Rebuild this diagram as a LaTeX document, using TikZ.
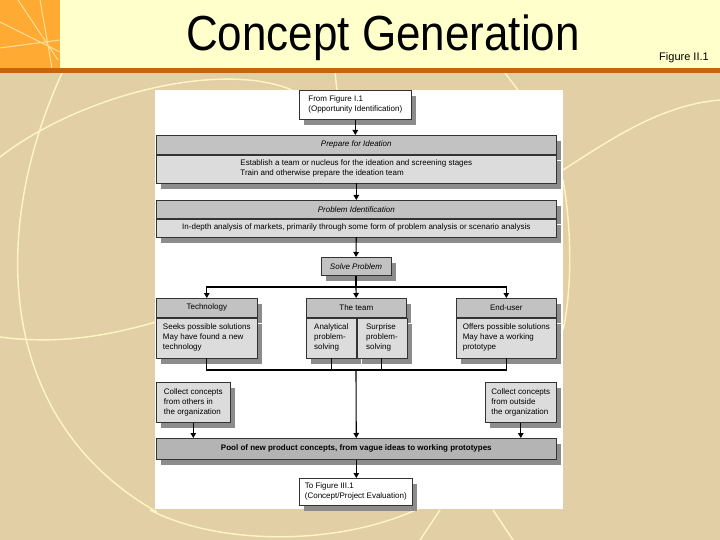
\documentclass[tikz,border=0pt]{standalone}
\usepackage{fontspec}
\setmainfont{Liberation Sans}
\usetikzlibrary{arrows.meta,shadows}
\newcommand{\figsz}{\fontsize{8}{10}\selectfont}
\definecolor{slidetan}{HTML}{E3CFA5}
\definecolor{slideband}{HTML}{FFFFCC}
\definecolor{slidebar}{HTML}{C4660E}
\definecolor{slideorange}{HTML}{FFAA33}
\definecolor{slideline}{HTML}{FFF6C4}
\definecolor{boxhead}{HTML}{C2C2C2}
\definecolor{boxbody}{HTML}{DCDCDC}
\definecolor{boxpool}{HTML}{B4B4B4}
\definecolor{boxshade}{HTML}{8C8C8C}
\definecolor{boxedge}{HTML}{333333}

\begin{document}
\begin{tikzpicture}[
  x=1pt,
  y=-1pt,
  every node/.style={inner sep=0pt, font=\figsz, text=black},
  boxshadow/.style={drop shadow={shadow xshift=5pt, shadow yshift=-6pt, fill=boxshade, opacity=1}},
  header/.style={draw=boxedge, line width=0.6pt, fill=boxhead, boxshadow, font=\figsz\itshape},
  plainhead/.style={header, font=\figsz},
  bodybox/.style={draw=boxedge, line width=0.6pt, fill=boxbody, boxshadow, align=left},
  whitebox/.style={draw=boxedge, line width=0.6pt, fill=white, boxshadow, align=left},
  flow/.style={black, line width=1.1pt, -{Triangle[length=5pt, width=5.5pt]}},
  link/.style={black, line width=1.1pt},
  deco/.style={slideline, line width=1.4pt}
]
  % ---- slide frame, curves are clipped to it ----
  \useasboundingbox (0,0) rectangle (720,540);
  \clip (0,0) rectangle (720,540);

  % ---- slide background ----
  \fill[slidetan] (0,0) rectangle (720,540);
  \draw[deco] (62,73) .. controls (-10,230) and (-5,420) .. (157,512);
  \draw[deco] (150,510) .. controls (220,546) and (340,546) .. (420,508);
  \draw[deco] (0,157) .. controls (80,95) and (220,60) .. (292,90);
  \draw[deco] (0,337) .. controls (60,345) and (110,335) .. (156,322);
  \draw[deco] (563,170) .. controls (610,140) and (660,105) .. (720,100);
  \draw[deco] (563,180) .. controls (572,230) and (572,290) .. (563,330);
  \draw[deco] (335,73) -- (337,90);
  \draw[deco] (505,73) -- (518,90);
  \draw[deco] (440,510) -- (420,540);
  \draw[deco] (493,510) -- (513,540);

  % ---- title band ----
  \fill[slideband] (0,0) rectangle (720,68);
  \fill[slideorange] (0,0) rectangle (60,68);
  \draw[slideline, line width=1pt, opacity=0.7]
    (0,22) -- (60,52) (18,0) -- (58,60) (0,48) -- (60,40) (40,0) -- (52,68);
  \fill[slidebar] (0,68) rectangle (720,73);
  \node[font=\fontsize{44}{48}\selectfont] (title) at (383,38)
    {\scalebox{1}[1.12]{Concept Generation}};
  \node[font=\fontsize{11}{13}\selectfont] (fignum) at (684,58) {Figure II.1};

  % ---- white panel ----
  \fill[white] (155,90) rectangle (563,509);

  % ---- top of the chart ----
  \node[whitebox, minimum width=112pt, minimum height=29pt, anchor=north west]
    (fromfig) at (299,90) {From Figure I.1\\(Opportunity Identification)};
  \node[header, minimum width=400pt, minimum height=19pt, anchor=north west]
    (prephead) at (156,135) {Prepare for Ideation};
  \node[bodybox, minimum width=400pt, minimum height=28pt, anchor=north]
    (prepbody) at (prephead.south)
    {Establish a team or nucleus for the ideation and screening stages\\
     Train and otherwise prepare the ideation team};
  \node[header, minimum width=400pt, minimum height=18pt, anchor=north west]
    (probhead) at (156,200) {Problem Identification};
  \node[bodybox, minimum width=400pt, minimum height=18pt, anchor=north]
    (probbody) at (probhead.south)
    {In-depth analysis of markets, primarily through some form of problem analysis or scenario analysis};
  \node[header, minimum width=70pt, minimum height=18pt, anchor=north]
    (solve) at (356,257) {Solve Problem};
  \coordinate (split) at (356,287);

  % ---- three sources ----
  \node[plainhead, minimum width=101pt, minimum height=19pt, anchor=north west]
    (techhead) at (156,298) {Technology};
  \node[bodybox, minimum width=101pt, minimum height=40pt, anchor=north]
    (techbody) at (techhead.south)
    {Seeks possible solutions\\May have found a new\\technology};
  \node[plainhead, minimum width=100pt, minimum height=19pt, anchor=north west]
    (teamhead) at (306,298) {The team};
  \node[bodybox, minimum width=50pt, minimum height=40pt, anchor=north west]
    (anabody) at (teamhead.south west) {Analytical\\problem-\\solving};
  \node[bodybox, minimum width=50pt, minimum height=40pt, anchor=north west]
    (surbody) at (anabody.north east) {Surprise\\problem-\\solving};
  \node[plainhead, minimum width=100pt, minimum height=19pt, anchor=north west]
    (endhead) at (456,298) {End-user};
  \node[bodybox, minimum width=100pt, minimum height=40pt, anchor=north]
    (endbody) at (endhead.south)
    {Offers possible solutions\\May have a working\\prototype};
  \coordinate (merge) at (356,370);

  % ---- collecting concepts ----
  \node[bodybox, minimum width=74pt, minimum height=40pt, anchor=north west]
    (collectin) at (156,382) {Collect concepts\\from others in\\the organization};
  \node[bodybox, minimum width=71pt, minimum height=40pt, anchor=north west]
    (collectout) at (485,382) {Collect concepts\\from outside\\the organization};
  \node[header, fill=boxpool, minimum width=400pt, minimum height=21pt, anchor=north west,
        font=\figsz\bfseries]
    (pool) at (156,438) {Pool of new product concepts, from vague ideas to working prototypes};
  \node[whitebox, minimum width=113pt, minimum height=27pt, anchor=north west]
    (tofig) at (299,478) {To Figure III.1\\(Concept/Project Evaluation)};

  % ---- connectors ----
  \draw[flow] (fromfig.south) -- (fromfig.south |- prephead.north);
  \draw[flow] (prepbody) -- (probhead);
  \draw[flow] (probbody) -- (solve);
  \draw[link] (solve) -- (split);
  \draw[flow] (split) -| (techhead);
  \draw[flow] (split) -- (teamhead);
  \draw[flow] (split) -| (endhead);
  \draw[link] (techbody.south) |- (merge);
  \draw[link] (anabody.south) |- (merge);
  \draw[link] (surbody.south) |- (merge);
  \draw[link] (endbody.south) |- (merge);
  \draw[flow] (merge) -- (pool);
  \draw[flow] (collectin.south) -- (collectin.south |- pool.north);
  \draw[flow] (collectout.south) -- (collectout.south |- pool.north);
  \draw[flow] (pool.south) -- (pool.south |- tofig.north);
\end{tikzpicture}
\end{document}
